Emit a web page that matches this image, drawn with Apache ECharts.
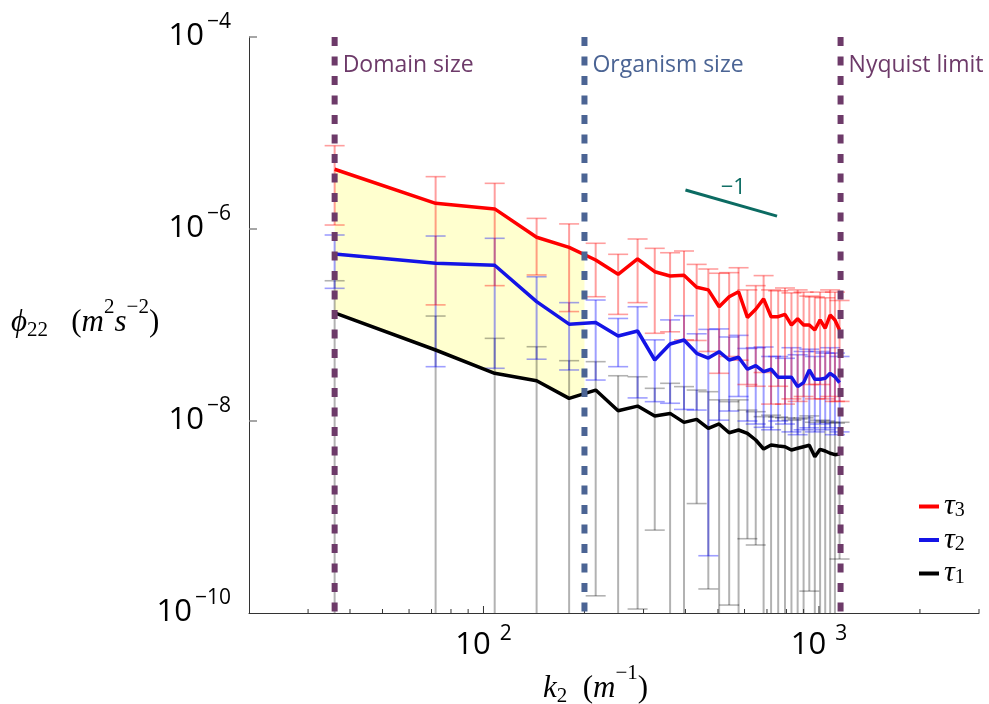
<!DOCTYPE html>
<html>
<head>
<meta charset="utf-8">
<script src="https://cdn.jsdelivr.net/npm/echarts@6/dist/echarts.min.js"></script>
<style>
  html, body { margin: 0; padding: 0; background: #fff; }
  #chart { width: 989px; height: 704px; }
</style>
</head>
<body>
<div id="chart"></div>
<script>
// Wavenumber bins (m^-1)
const kValues = [36, 72, 108, 144, 180, 216, 252, 288, 324, 360, 396, 432, 468, 504, 540, 576,
                 612, 648, 684, 720, 756, 792, 828, 864, 900, 936, 972, 1008, 1044, 1080, 1116, 1152];

// tau_3 spectrum with error-bar limits
const tau3Mean = [4.19e-6, 1.85e-6, 1.62e-6, 8.2e-7, 6.44e-7, 4.75e-7, 3.37e-7, 4.87e-7, 3.59e-7, 3.24e-7, 3.30e-7,
                  2.47e-7, 2.32e-7, 1.55e-7, 1.97e-7, 2.22e-7, 1.20e-7, 1.46e-7, 1.87e-7, 1.22e-7, 1.22e-7, 1.29e-7,
                  1.0e-7, 1.16e-7, 1.0e-7, 1.0e-7, 8.87e-8, 1.13e-7, 9.25e-8, 1.27e-7, 1.13e-7, 8.87e-8];
const tau3Hi = [7.38e-6, 3.51e-6, 2.99e-6, 1.29e-6, 1.13e-6, 7.10e-7, 5.45e-7, 7.87e-7, 6.29e-7, 5.66e-7, 5.90e-7,
                4.28e-7, 3.83e-7, 3.46e-7, 3.51e-7, 3.95e-7, 2.32e-7, 2.57e-7, 3.27e-7, 2.32e-7, 2.27e-7, 2.43e-7,
                2.16e-7, 2.32e-7, 2.2e-7, 2.0e-7, 1.96e-7, 2.2e-7, 1.92e-7, 2.32e-7, 2.2e-7, 1.8e-7];
const tau3Lo = [1.10e-6, 1.62e-7, 2.57e-7, 3.32e-7, 1.38e-7, 1.97e-7, 1.29e-7, 1.71e-7, 8.2e-8, 8.5e-8, 7.0e-8,
                6.9e-8, 5.3e-8, 3.14e-8, 4.7e-8, 4.3e-8, 2.4e-8, 2.3e-8, 3.2e-8, 1.5e-8, 2.3e-8, 1.5e-8,
                1.7e-8, 1.6e-8, 1.8e-8, 2.4e-8, 1.7e-8, 2.4e-8, 1.7e-8, 1.8e-8, 1.6e-8, 1.6e-8];

// tau_2 spectrum with error-bar limits
const tau2Mean = [5.50e-7, 4.40e-7, 4.19e-7, 1.75e-7, 1.02e-7, 1.06e-7, 7.67e-8, 8.66e-8, 4.32e-8, 6.34e-8, 6.98e-8,
                  5.07e-8, 4.53e-8, 5.27e-8, 4.32e-8, 4.61e-8, 3.46e-8, 3.77e-8, 3.27e-8, 3.46e-8, 2.85e-8, 2.85e-8,
                  2.85e-8, 2.28e-8, 2.51e-8, 3.40e-8, 2.72e-8, 2.72e-8, 2.79e-8, 3.14e-8, 2.89e-8, 2.51e-8];
const tau2Hi = [8.66e-7, 8.45e-7, 8.0e-7, 3.18e-7, 1.71e-7, 1.82e-7, 1.17e-7, 1.55e-7, 7.0e-8, 1.13e-7, 1.25e-7,
                8.1e-8, 9.0e-8, 9.1e-8, 7.5e-8, 7.8e-8, 5.7e-8, 5.8e-8, 5.9e-8, 4.7e-8, 4.7e-8, 4.5e-8,
                5.8e-8, 4.9e-8, 5.3e-8, 5.6e-8, 4.7e-8, 5.3e-8, 5.1e-8, 5.8e-8, 5.1e-8, 4.7e-8];
const tau2Lo = [2.41e-7, 3.68e-8, 3.54e-8, 4.40e-8, 3.40e-8, 2.67e-8, 3.68e-8, 1.74e-8, 1.59e-8, 1.53e-8, 1.32e-8,
                1.3e-8, 3.95e-10, 1.02e-8, 1.27e-8, 1.8e-8, 1.0e-8, 9.3e-9, 8.6e-9, 8.1e-9, 1.0e-8, 9.3e-9,
                7.7e-9, 7.2e-9, 8.1e-9, 8.5e-9, 7.7e-9, 9.3e-9, 8.1e-9, 8.5e-9, 7.2e-9, 7.7e-9];

// tau_1 spectrum with error-bar limits (null: lower limit is not positive)
const tau1Mean = [1.34e-7, 5.49e-8, 3.14e-8, 2.63e-8, 1.72e-8, 2.10e-8, 1.28e-8, 1.43e-8, 1.13e-8, 1.20e-8, 9.68e-9,
                  1.04e-8, 8.39e-9, 9.31e-9, 7.55e-9, 8.06e-9, 7.44e-9, 6.34e-9, 5.11e-9, 5.62e-9, 5.49e-9, 5.40e-9,
                  4.99e-9, 5.20e-9, 5.40e-9, 5.58e-9, 4.25e-9, 5.07e-9, 4.87e-9, 4.61e-9, 4.46e-9, 4.53e-9];
const tau1Hi = [2.89e-7, 1.24e-7, 7.26e-8, 5.94e-8, 4.25e-8, 4.15e-8, 2.96e-8, 2.89e-8, 2.19e-8, 2.47e-8, 2.28e-8,
                2.10e-8, 2.02e-8, 1.66e-8, 1.59e-8, 1.66e-8, 1.30e-8, 1.25e-8, 1.11e-8, 1.15e-8, 1.1e-8, 1.08e-8,
                1.02e-8, 1.05e-8, 1.08e-8, 1.13e-8, 9.7e-9, 1.02e-8, 1.0e-8, 9.7e-9, 9.5e-9, 9.7e-9];
const tau1Lo = [null, null, null, null, null, 1.51e-10, null, 1.10e-10, 7.3e-10, null, null,
                1.38e-9, 1.78e-10, null, 1.21e-10, null, 5.94e-10, 5.11e-10, null, null, null, null,
                null, null, null, 1.69e-10, null, null, null, null, null, 3.65e-10];

// Reference scales (m^-1)
const guideK = [36, 200, 1160];
const guideNames = ['Domain size', 'Organism size', 'Nyquist limit'];
const fillEndK = 200;

// -1 slope reference segment
const slopeK = [400, 750];
const slopeV = [2.55e-6, 1.36e-6];
const slopeText = '\u22121';

// Axis tick positions
const xMinorTicks = [30, 40, 50, 60, 70, 80, 90, 200, 300, 400, 500, 600, 700, 800, 900, 2000, 3000];
const xMajorTicks = [100, 1000];
const yTicks = [1e-4, 1e-6, 1e-8];

const X_MIN = 20, X_MAX = 3000, Y_MIN = 1e-10, Y_MAX = 1e-4;
const guideColors = ['#6d3a69', '#4b6494', '#6d3a69'];
const serif = '"Liberation Serif", "DejaVu Serif", serif';
const sans = '"Open Sans", "Liberation Sans", sans-serif';

function isPow10(v) {
  const e = Math.log10(v);
  return Math.abs(e - Math.round(e)) < 1e-6;
}

function errorBars(name, mean, lo, hi, color, z) {
  return {
    type: 'custom', name: name, z: z, silent: true,
    data: kValues.map((kk, i) => [kk, mean[i]]),
    encode: { x: 0, y: 1 },
    renderItem(params, api) {
      const i = params.dataIndex;
      const pHi = api.coord([kValues[i], hi[i]]);
      const hasLo = lo[i] != null;
      const pLo = api.coord([kValues[i], hasLo ? lo[i] : Y_MIN]);
      const x = pHi[0];
      const kids = [
        { type: 'line', shape: { x1: x, y1: pHi[1], x2: x, y2: pLo[1] }, style: { stroke: color, lineWidth: 2 } },
        { type: 'line', shape: { x1: x - 10, y1: pHi[1], x2: x + 10, y2: pHi[1] }, style: { stroke: color, lineWidth: 1.6 } }
      ];
      if (hasLo) {
        kids.push({ type: 'line', shape: { x1: x - 10, y1: pLo[1], x2: x + 10, y2: pLo[1] }, style: { stroke: color, lineWidth: 1.6 } });
      }
      return { type: 'group', children: kids };
    }
  };
}

function spectrumLine(name, mean, color) {
  return {
    type: 'line', name: name, z: 6, silent: true,
    data: kValues.map((kk, i) => [kk, mean[i]]),
    showSymbol: false, symbol: 'none',
    lineStyle: { color: color, width: 3.5 },
    itemStyle: { color: color }
  };
}

// "10" with a raised exponent; the exponent token sets the taller line box
const tickRich = (padLeft, lineH, baseLift) => ({
  b: { fontFamily: sans, fontSize: 31, lineHeight: 30, color: '#000', verticalAlign: 'bottom', padding: [0, 0, baseLift, 0] },
  s: { fontFamily: sans, fontSize: 21, lineHeight: lineH, color: '#000', verticalAlign: 'top', padding: [0, 0, 0, padLeft] }
});

// italic math text with sub/superscripts
const mathRich = (size, small) => ({
  i: { fontFamily: serif, fontStyle: 'italic', fontSize: size, lineHeight: size + 10, fill: '#000', verticalAlign: 'middle' },
  r: { fontFamily: serif, fontSize: size, lineHeight: size + 10, fill: '#000', verticalAlign: 'middle' },
  sub: { fontFamily: serif, fontSize: small, lineHeight: size + 20, fill: '#000', verticalAlign: 'bottom', padding: [0, 0, 7, 0] },
  sup: { fontFamily: serif, fontSize: small, lineHeight: size + 20, fill: '#000', verticalAlign: 'top', padding: [0, 0, 0, 0] }
});

const chart = echarts.init(document.getElementById('chart'), null, { renderer: 'canvas' });

const option = {
  animation: false,
  backgroundColor: '#fff',
  grid: { left: 249, right: 10, top: 37, bottom: 91 },
  xAxis: {
    type: 'log', logBase: 10, min: X_MIN, max: X_MAX,
    axisLine: { show: true, lineStyle: { color: '#333', width: 1 } },
    axisTick: { show: false },
    splitLine: { show: false },
    axisLabel: {
      margin: 11,
      formatter: v => isPow10(v) ? '{b|10}{s|' + Math.round(Math.log10(v)) + '}' : '',
      rich: tickRich(9, 40, 3)
    }
  },
  yAxis: {
    type: 'log', logBase: 10, min: Y_MIN, max: Y_MAX,
    axisLine: { show: true, lineStyle: { color: '#333', width: 1 } },
    axisTick: { show: false },
    splitLine: { show: false },
    axisLabel: {
      margin: 18,
      formatter: v => {
        const e = Math.round(Math.log10(v));
        return (isPow10(v) && e % 2 === 0) ? '{b|10}{s|\u2212' + Math.abs(e) + '}' : '';
      },
      rich: tickRich(3, 50, 10)
    }
  },
  legend: {
    orient: 'vertical', left: 914, top: 486,
    itemWidth: 20, itemHeight: 4, itemGap: 3, icon: 'rect',
    data: ['τ3', 'τ2', 'τ1'],
    formatter: name => '{i|τ}{sub|' + name.slice(1) + '}',
    textStyle: {
      rich: {
        i: { fontFamily: serif, fontStyle: 'italic', fontSize: 30, lineHeight: 29, color: '#000' },
        sub: { fontFamily: serif, fontSize: 20, lineHeight: 19, color: '#000', verticalAlign: 'bottom', padding: [10, 0, 0, 0] }
      }
    }
  },
  graphic: [
    {
      type: 'text', left: 11, top: 297,
      style: {
        text: '{i|ϕ}{sub|22}{r|   (}{i|m}{sup|2}{i|s}{sup|\u22122}{r|)}',
        rich: mathRich(31, 21)
      }
    },
    {
      type: 'text', left: 543, top: 663,
      style: {
        text: '{i|k}{sub|2}{r|  (}{i|m}{sup|\u22121}{r|)}',
        rich: mathRich(31, 21)
      }
    }
  ],
  series: [
    // shaded band between tau_3 and tau_1 up to organism scale
    {
      type: 'custom', name: 'band', z: 1, silent: true,
      data: [[kValues[0], tau3Mean[0]]],
      encode: { x: 0, y: 1 },
      renderItem(params, api) {
        const xEdge = api.coord([fillEndK, Y_MAX])[0];
        const top = [], bot = [];
        for (let i = 0; i < kValues.length; i++) {
          const pr = api.coord([kValues[i], tau3Mean[i]]);
          const pb = api.coord([kValues[i], tau1Mean[i]]);
          if (pr[0] <= xEdge) { top.push(pr); bot.push(pb); continue; }
          const pr0 = top[top.length - 1], pb0 = bot[bot.length - 1];
          const t = (xEdge - pr0[0]) / (pr[0] - pr0[0]);
          top.push([xEdge, pr0[1] + t * (pr[1] - pr0[1])]);
          bot.push([xEdge, pb0[1] + t * (pb[1] - pb0[1])]);
          break;
        }
        return { type: 'polygon', shape: { points: top.concat(bot.reverse()) }, style: { fill: '#ffffcf' } };
      }
    },
    errorBars('τ1 err', tau1Mean, tau1Lo, tau1Hi, 'rgba(0,0,0,0.3)', 2),
    errorBars('τ2 err', tau2Mean, tau2Lo, tau2Hi, 'rgba(0,0,255,0.38)', 3),
    errorBars('τ3 err', tau3Mean, tau3Lo, tau3Hi, 'rgba(255,0,0,0.38)', 4),
    spectrumLine('τ1', tau1Mean, '#000000'),
    spectrumLine('τ2', tau2Mean, '#1414e6'),
    spectrumLine('τ3', tau3Mean, '#ff0000'),
    // -1 slope reference
    {
      type: 'custom', name: 'slope', z: 7, silent: true,
      data: [[slopeK[0], slopeV[0]]],
      encode: { x: 0, y: 1 },
      renderItem(params, api) {
        const a = api.coord([slopeK[0], slopeV[0]]);
        const b = api.coord([slopeK[1], slopeV[1]]);
        return {
          type: 'group', children: [
            { type: 'line', shape: { x1: a[0], y1: a[1], x2: b[0], y2: b[1] }, style: { stroke: '#0b6b62', lineWidth: 3 } },
            { type: 'text', style: { text: slopeText, x: (a[0] + b[0]) / 2 + 2, y: (a[1] + b[1]) / 2 - 15,
              fill: '#0b6b62', font: '22px ' + sans, align: 'center', verticalAlign: 'middle' } }
          ]
        };
      }
    },
    // axis ticks (inward)
    {
      type: 'custom', name: 'ticks', z: 8, silent: true,
      data: xMinorTicks.map(v => [v, Y_MIN]).concat(xMajorTicks.map(v => [v, Y_MIN])),
      encode: { x: 0, y: 1 },
      renderItem(params, api) {
        const v = api.value(0);
        const p = api.coord([v, Y_MIN]);
        const len = xMajorTicks.indexOf(v) >= 0 ? 7 : 4;
        return { type: 'line', shape: { x1: p[0], y1: p[1], x2: p[0], y2: p[1] - len }, style: { stroke: '#333', lineWidth: 1 } };
      }
    },
    {
      type: 'custom', name: 'yticks', z: 8, silent: true,
      data: yTicks.map(v => [X_MIN, v]),
      encode: { x: 0, y: 1 },
      renderItem(params, api) {
        const p = api.coord([X_MIN, api.value(1)]);
        return { type: 'line', shape: { x1: p[0], y1: p[1], x2: p[0] + 8, y2: p[1] }, style: { stroke: '#888', lineWidth: 1.5 } };
      }
    },
    // dashed scale markers with captions
    {
      type: 'custom', name: 'guides', z: 9, silent: true,
      data: guideK.map(v => [v, Y_MAX]),
      encode: { x: 0, y: 1 },
      renderItem(params, api) {
        const i = params.dataIndex;
        const top = api.coord([guideK[i], Y_MAX]);
        const bot = api.coord([guideK[i], Y_MIN]);
        return {
          type: 'group', children: [
            { type: 'line', shape: { x1: top[0], y1: top[1], x2: bot[0], y2: bot[1] },
              style: { stroke: guideColors[i], lineWidth: 6, lineDash: [9, 10.5], lineCap: 'butt' } },
            { type: 'text', style: { text: guideNames[i], x: top[0] + 8, y: top[1] + 28,
              fill: guideColors[i], font: '23px ' + sans, align: 'left', verticalAlign: 'middle' } }
          ]
        };
      }
    }
  ]
};

chart.setOption(option);
</script>
</body>
</html>
